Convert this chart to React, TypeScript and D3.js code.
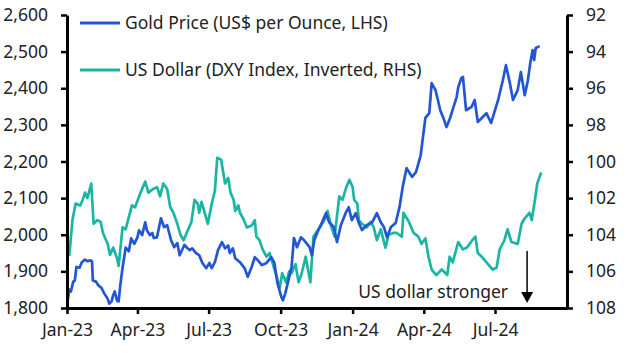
import React, { useEffect, useRef } from "react";
import * as d3 from "d3";

// Gold price, US$ per ounce
const goldDates = [
  "2023-01-02", "2023-01-04", "2023-01-06", "2023-01-09", "2023-01-11", "2023-01-13", "2023-01-17",
  "2023-01-20", "2023-01-24", "2023-01-27", "2023-01-31", "2023-02-02", "2023-02-03", "2023-02-07",
  "2023-02-10", "2023-02-14", "2023-02-17", "2023-02-22", "2023-02-24", "2023-02-27", "2023-03-01",
  "2023-03-03", "2023-03-06", "2023-03-08", "2023-03-10", "2023-03-13", "2023-03-17", "2023-03-21",
  "2023-03-24", "2023-03-28", "2023-04-01", "2023-04-03", "2023-04-07", "2023-04-11", "2023-04-13",
  "2023-04-17", "2023-04-20", "2023-04-22", "2023-04-26", "2023-05-01", "2023-05-05", "2023-05-09",
  "2023-05-14", "2023-05-18", "2023-05-22", "2023-05-25", "2023-05-31", "2023-06-04", "2023-06-07",
  "2023-06-10", "2023-06-15", "2023-06-19", "2023-06-23", "2023-06-28", "2023-07-02", "2023-07-05",
  "2023-07-09", "2023-07-13", "2023-07-18", "2023-07-22", "2023-07-26", "2023-07-28", "2023-08-01",
  "2023-08-04", "2023-08-10", "2023-08-16", "2023-08-20", "2023-08-25", "2023-08-29", "2023-09-02",
  "2023-09-07", "2023-09-13", "2023-09-19", "2023-09-23", "2023-09-27", "2023-10-02", "2023-10-04",
  "2023-10-07", "2023-10-11", "2023-10-15", "2023-10-18", "2023-10-22", "2023-10-27", "2023-10-31",
  "2023-11-07", "2023-11-10", "2023-11-13", "2023-11-17", "2023-11-23", "2023-11-28", "2023-12-02",
  "2023-12-08", "2023-12-12", "2023-12-17", "2023-12-23", "2023-12-27", "2023-12-31", "2024-01-05",
  "2024-01-09", "2024-01-13", "2024-01-19", "2024-01-26", "2024-02-01", "2024-02-06", "2024-02-10",
  "2024-02-14", "2024-02-19", "2024-02-25", "2024-03-01", "2024-03-05", "2024-03-10", "2024-03-14",
  "2024-03-17", "2024-03-22", "2024-03-28", "2024-04-03", "2024-04-08", "2024-04-11", "2024-04-16",
  "2024-04-19", "2024-04-22", "2024-04-26", "2024-04-30", "2024-05-05", "2024-05-09", "2024-05-13",
  "2024-05-15", "2024-05-19", "2024-05-21", "2024-05-25", "2024-06-01", "2024-06-05", "2024-06-09",
  "2024-06-15", "2024-06-20", "2024-06-26", "2024-07-01", "2024-07-05", "2024-07-11", "2024-07-15",
  "2024-07-20", "2024-07-24", "2024-07-30", "2024-08-03", "2024-08-08", "2024-08-12", "2024-08-15",
  "2024-08-18", "2024-08-20", "2024-08-22", "2024-08-27",
];
const goldPrice = [
  1822, 1850, 1845, 1872, 1875, 1912, 1910,
  1925, 1932, 1928, 1930, 1928, 1875, 1872,
  1862, 1855, 1842, 1825, 1812, 1818, 1835,
  1845, 1820, 1818, 1860, 1910, 1965, 1955,
  1990, 1975, 1993, 2012, 1999, 2034, 2012,
  1999, 2005, 1991, 1993, 2045, 2021, 2026,
  1985, 1966, 1977, 1944, 1972, 1963, 1958,
  1963, 1950, 1944, 1923, 1909, 1923, 1909,
  1925, 1958, 1980, 1963, 1971, 1950, 1963,
  1936, 1925, 1909, 1885, 1912, 1939, 1930,
  1917, 1923, 1939, 1923, 1868, 1830, 1821,
  1840, 1876, 1912, 1991, 1966, 1993, 1985,
  1966, 1944, 1985, 2007, 2034, 2059, 2034,
  2021, 1980, 2026, 2059, 2075, 2040, 2059,
  2032, 2013, 2026, 2034, 2059, 2034, 2021,
  1993, 2021, 2032, 2076, 2130, 2182, 2168,
  2158, 2171, 2217, 2319, 2332, 2414, 2395,
  2368, 2340, 2319, 2294, 2321, 2349, 2376,
  2403, 2428, 2431, 2340, 2349, 2368, 2308,
  2321, 2332, 2305, 2340, 2368, 2422, 2463,
  2414, 2368, 2395, 2444, 2381, 2422, 2468,
  2504, 2477, 2510, 2515,
];

// DXY index (plotted inverted on the right axis)
const dxyDates = [
  "2023-01-01", "2023-01-04", "2023-01-08", "2023-01-12", "2023-01-18", "2023-01-21", "2023-01-24",
  "2023-01-27", "2023-02-01", "2023-02-04", "2023-02-09", "2023-02-13", "2023-02-16", "2023-02-22",
  "2023-02-25", "2023-03-01", "2023-03-06", "2023-03-08", "2023-03-13", "2023-03-17", "2023-03-20",
  "2023-03-25", "2023-03-29", "2023-04-05", "2023-04-11", "2023-04-15", "2023-04-21", "2023-04-26",
  "2023-04-30", "2023-05-04", "2023-05-09", "2023-05-13", "2023-05-17", "2023-05-22", "2023-05-26",
  "2023-05-30", "2023-06-04", "2023-06-09", "2023-06-13", "2023-06-17", "2023-06-19", "2023-06-22",
  "2023-06-26", "2023-06-30", "2023-07-05", "2023-07-09", "2023-07-12", "2023-07-17", "2023-07-22",
  "2023-07-26", "2023-07-29", "2023-08-02", "2023-08-04", "2023-08-08", "2023-08-10", "2023-08-14",
  "2023-08-19", "2023-08-25", "2023-08-29", "2023-08-31", "2023-09-04", "2023-09-08", "2023-09-13",
  "2023-09-17", "2023-09-19", "2023-09-26", "2023-09-30", "2023-10-03", "2023-10-08", "2023-10-12",
  "2023-10-15", "2023-10-20", "2023-10-24", "2023-10-28", "2023-11-02", "2023-11-08", "2023-11-12",
  "2023-11-20", "2023-11-26", "2023-11-30", "2023-12-05", "2023-12-09", "2023-12-15", "2023-12-19",
  "2023-12-24", "2023-12-28", "2024-01-01", "2024-01-03", "2024-01-07", "2024-01-09", "2024-01-13",
  "2024-01-19", "2024-01-24", "2024-01-28", "2024-02-01", "2024-02-06", "2024-02-12", "2024-02-16",
  "2024-02-22", "2024-02-26", "2024-03-04", "2024-03-06", "2024-03-13", "2024-03-19", "2024-03-25",
  "2024-03-29", "2024-04-03", "2024-04-07", "2024-04-11", "2024-04-17", "2024-04-24", "2024-05-01",
  "2024-05-04", "2024-05-08", "2024-05-15", "2024-05-21", "2024-05-26", "2024-06-02", "2024-06-06",
  "2024-06-09", "2024-06-14", "2024-06-22", "2024-06-28", "2024-07-03", "2024-07-07", "2024-07-13",
  "2024-07-17", "2024-07-22", "2024-07-30", "2024-08-04", "2024-08-08", "2024-08-14", "2024-08-17",
  "2024-08-21", "2024-08-24", "2024-08-29",
];
const dxyIndex = [
  104.3, 105.1, 103.2, 102.3, 102.4, 102.1, 101.7,
  102.0, 101.2, 103.4, 103.2, 103.3, 103.9, 104.5,
  105.1, 104.7, 105.3, 105.7, 103.6, 103.7, 103.2,
  102.4, 102.5, 101.7, 101.1, 101.7, 101.5, 101.4,
  101.9, 101.2, 101.5, 102.5, 102.8, 103.4, 104.0,
  104.3, 103.8, 103.3, 102.1, 102.3, 102.8, 102.2,
  102.8, 103.4, 102.3, 101.6, 99.8, 99.9, 101.2,
  100.9, 101.7, 102.1, 102.7, 102.4, 102.8, 103.1,
  103.6, 103.5, 103.2, 104.1, 104.3, 104.8, 105.2,
  105.0, 105.3, 106.3, 106.9, 106.1, 106.6, 106.0,
  106.1, 105.6, 106.6, 106.1, 105.2, 106.6, 104.1,
  103.6, 103.2, 102.7, 103.6, 104.1, 101.9, 102.1,
  101.4, 101.0, 101.4, 102.1, 102.3, 103.2, 103.4,
  103.6, 103.3, 103.6, 104.3, 103.7, 104.7, 104.0,
  103.9, 103.9, 104.1, 102.8, 103.3, 103.9, 104.1,
  104.5, 104.2, 105.2, 105.9, 106.2, 105.9, 106.2,
  105.2, 105.5, 104.4, 104.8, 104.7, 104.3, 104.1,
  105.0, 105.2, 105.6, 105.9, 105.8, 104.8, 104.3,
  103.7, 104.4, 104.5, 103.4, 103.1, 102.8, 103.2,
  102.1, 101.2, 100.6,
];

const goldTicks = [1800, 1900, 2000, 2100, 2200, 2300, 2400, 2500, 2600];
const dxyTicks = [92, 94, 96, 98, 100, 102, 104, 106, 108];
const quarterTicks = ["2023-01-01", "2023-04-01", "2023-07-01", "2023-10-01", "2024-01-01", "2024-04-01", "2024-07-01"];

const legendLabels = ["Gold Price (US$ per Ounce, LHS)", "US Dollar (DXY Index, Inverted, RHS)"];

const W = 627;
const H = 353;
const margin = { top: 15, right: 60, bottom: 45, left: 67 };
const GOLD = "#2356d2";
const TEAL = "#1cb5a3";
const FONT = "'Noto Sans', sans-serif";
const FS = "17.5px";

const parse = d3.utcParse("%Y-%m-%d");

export default function App() {
  const leftRef = useRef<SVGGElement>(null);
  const rightRef = useRef<SVGGElement>(null);
  const bottomRef = useRef<SVGGElement>(null);

  const x = d3
    .scaleUtc()
    .domain([parse("2023-01-01")!, parse("2024-10-01")!])
    .range([margin.left, W - margin.right]);
  const yGold = d3.scaleLinear().domain([1800, 2600]).range([H - margin.bottom, margin.top]);
  const yDxy = d3.scaleLinear().domain([108, 92]).range([H - margin.bottom, margin.top]);

  const goldLine = d3
    .line<number>()
    .x((_, i) => x(parse(goldDates[i])!))
    .y((d) => yGold(d));
  const dxyLine = d3
    .line<number>()
    .x((_, i) => x(parse(dxyDates[i])!))
    .y((d) => yDxy(d));

  useEffect(() => {
    document.body.style.margin = "0";

    const style = (g: d3.Selection<SVGGElement, unknown, null, undefined>) => {
      g.selectAll(".domain").attr("stroke", "#000").attr("stroke-width", 3);
      g.selectAll(".tick line").attr("stroke", "#000").attr("stroke-width", 2.5);
      g.selectAll(".tick text")
        .attr("fill", "#222")
        .attr("font-size", FS)
        .attr("font-family", FONT);
    };

    const left = d3.select(leftRef.current!);
    left.selectAll("*").remove();
    left
      .call(
        d3.axisLeft(yGold).tickValues(goldTicks).tickSize(6).tickSizeOuter(0).tickPadding(13)
          .tickFormat((d) => d3.format(",")(d as number))
      )
      .call(style);

    const right = d3.select(rightRef.current!);
    right.selectAll("*").remove();
    right
      .call(d3.axisRight(yDxy).tickValues(dxyTicks).tickSize(6).tickSizeOuter(0).tickPadding(13))
      .call(style);

    const bottom = d3.select(bottomRef.current!);
    bottom.selectAll("*").remove();
    bottom
      .call(
        d3.axisBottom(x).tickValues(quarterTicks.map((d) => parse(d)!)).tickSize(6).tickSizeOuter(0)
          .tickPadding(10).tickFormat((d) => d3.utcFormat("%b-%y")(d as Date))
      )
      .call(style);
  }, []);

  const arrowX = x(parse("2024-08-11")!);

  return (
    <svg width={W} height={H} style={{ position: "absolute", left: 0, top: 0, background: "#fff" }}>
      <path d={dxyLine(dxyIndex) || ""} fill="none" stroke={TEAL} strokeWidth={2.7} strokeLinejoin="round" />
      <path d={goldLine(goldPrice) || ""} fill="none" stroke={GOLD} strokeWidth={2.7} strokeLinejoin="round" />

      <g ref={leftRef} transform={`translate(${margin.left},0)`} />
      <g ref={rightRef} transform={`translate(${W - margin.right},0)`} />
      <g ref={bottomRef} transform={`translate(0,${H - margin.bottom})`} />

      {/* Legend */}
      {legendLabels.map((label, i) => (
        <g key={label} transform={`translate(80,${23 + i * 47})`}>
          <line x1={0} x2={40} y1={0} y2={0} stroke={i === 0 ? GOLD : TEAL} strokeWidth={3} />
          <text x={45} y={0} dy="0.35em" fontSize={FS} fontFamily={FONT} fill="#222">
            {label}
          </text>
        </g>
      ))}

      {/* Annotation */}
      <text x={arrowX - 19} y={298} textAnchor="end" fontSize={FS} fontFamily={FONT} fill="#222">
        US dollar stronger
      </text>
      <line x1={arrowX} x2={arrowX} y1={251} y2={294} stroke="#000" strokeWidth={1.5} />
      <path d={`M${arrowX - 6},${292} L${arrowX + 6},${292} L${arrowX},${303} Z`} fill="#000" />
    </svg>
  );
}
